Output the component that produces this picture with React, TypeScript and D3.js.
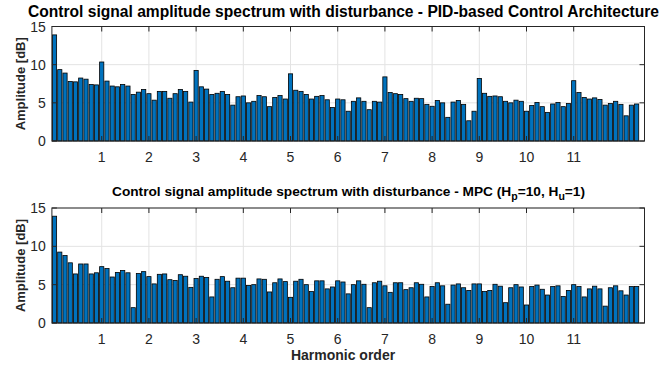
import React from "react";
import * as d3 from "d3";

// Harmonic order of each spectral bin (resolution 1/9 harmonic)
const binCount = 112;
const binStep = 1 / 9;

const pidAmplitude: number[] = [
  13.9, 9.35, 8.9, 7.8, 7.75, 8.25, 8.1, 7.4, 7.35, 10.35,
  7.85, 7.2, 7.1, 7.4, 7.2, 6.1, 6.4, 6.75, 6.2, 5.35,
  6.5, 6.5, 5.6, 6.2, 6.75, 6.5, 5.1, 9.25, 7.1, 6.8,
  6.1, 6.25, 6.5, 6.1, 4.7, 5.8, 5.9, 5.0, 5.2, 5.95,
  5.8, 4.5, 5.7, 5.95, 5.5, 8.8, 6.65, 6.5, 6.1, 5.5,
  5.85, 5.95, 5.4, 4.4, 5.5, 5.4, 3.9, 5.2, 5.65, 5.2,
  4.1, 5.2, 5.1, 8.4, 6.35, 6.2, 6.1, 5.55, 5.2, 5.6,
  5.55, 4.8, 4.55, 5.3, 5.0, 3.1, 5.1, 5.3, 4.8, 2.65,
  3.9, 8.2, 6.25, 5.85, 5.9, 5.8, 5.2, 5.0, 5.35, 5.2,
  3.9, 4.65, 5.05, 4.5, 3.75, 4.85, 5.05, 4.5, 4.9, 7.9,
  6.35, 5.7, 5.5, 5.65, 5.45, 4.7, 4.9, 5.2, 4.8, 3.3,
  4.7, 4.85,
];

const mpcAmplitude: number[] = [
  13.93, 9.25, 8.8, 7.85, 6.4, 7.7, 7.7, 6.4, 6.55, 7.35,
  7.1, 6.0, 6.6, 6.85, 6.55, 2.0, 6.45, 6.7, 6.05, 5.1,
  6.35, 6.4, 5.65, 5.55, 6.3, 6.1, 4.65, 5.8, 6.1, 5.95,
  3.4, 5.7, 6.05, 5.45, 4.6, 5.85, 5.85, 4.9, 5.0, 5.75,
  5.7, 4.05, 5.25, 5.75, 5.4, 3.35, 5.45, 5.7, 5.0, 4.1,
  5.5, 5.5, 4.45, 4.7, 5.5, 5.35, 3.8, 5.0, 5.5, 5.05,
  2.0, 5.25, 5.45, 4.85, 4.0, 5.25, 5.25, 4.35, 4.6, 5.25,
  5.05, 3.4, 4.75, 5.25, 4.85, 2.45, 4.95, 5.1, 4.6, 4.25,
  5.1, 5.1, 4.1, 4.25, 5.05, 4.8, 2.65, 4.6, 5.0, 4.7,
  2.35, 4.75, 4.95, 4.4, 3.65, 4.75, 4.85, 3.45, 4.25, 5.0,
  4.75, 3.4, 4.45, 4.8, 4.45, 2.2, 4.6, 4.85, 4.2, 3.65,
  4.75, 4.75,
];

const xTicks: number[] = [1, 2, 3, 4, 5, 6, 7, 8, 9, 10, 11];
const yTicks: number[] = [0, 5, 10, 15];

const FONT = "'Liberation Sans', Arial, Helvetica, sans-serif";
const AXIS_COLOR = "#262626";
const GRID_COLOR = "#e3e3e3";
const BAR_COLOR = "#0072BD";

const W = 669;
const H = 368;
const plotLeft = 51.9;
const plotRight = 644.5;

const xScale = d3
  .scaleLinear()
  .domain([-binStep / 2, 12.5])
  .range([plotLeft, plotRight]);

const harmonics = d3.range(binCount).map((k) => k * binStep);

type PanelProps = {
  values: number[];
  top: number;
  bottom: number;
  title: React.ReactNode;
  titleSize: number;
  titleX: number;
  titleY: number;
};

function Panel({ values, top, bottom, title, titleSize, titleX, titleY }: PanelProps) {
  const y = d3.scaleLinear().domain([0, 15]).range([bottom, top]);
  const step = xScale(binStep) - xScale(0);
  const bw = step * 0.8;
  const tickLen = 5;
  const fmt = d3.format("d");
  return (
    <g>
      {xTicks.map((t) => (
        <line key={"gx" + t} x1={xScale(t)} x2={xScale(t)} y1={top} y2={bottom} stroke={GRID_COLOR} strokeWidth={1} />
      ))}
      {yTicks.map((t) => (
        <line key={"gy" + t} x1={plotLeft} x2={plotRight} y1={y(t)} y2={y(t)} stroke={GRID_COLOR} strokeWidth={1} />
      ))}
      {values.map((v, i) => (
        <rect
          key={i}
          x={xScale(harmonics[i]) - bw / 2}
          y={y(v)}
          width={bw}
          height={y(0) - y(v)}
          fill={BAR_COLOR}
          stroke="#000"
          strokeWidth={0.8}
        />
      ))}
      <rect
        x={plotLeft}
        y={top}
        width={plotRight - plotLeft}
        height={bottom - top}
        fill="none"
        stroke={AXIS_COLOR}
        strokeWidth={1}
      />
      {xTicks.map((t) => (
        <g key={"tx" + t}>
          <line x1={xScale(t)} x2={xScale(t)} y1={bottom} y2={bottom - tickLen} stroke={AXIS_COLOR} />
          <line x1={xScale(t)} x2={xScale(t)} y1={top} y2={top + tickLen} stroke={AXIS_COLOR} />
          <text x={xScale(t)} y={bottom + 20.5} textAnchor="middle" fontFamily={FONT} fontSize={14} fill={AXIS_COLOR}>
            {fmt(t)}
          </text>
        </g>
      ))}
      {yTicks.map((t) => (
        <g key={"ty" + t}>
          <line x1={plotLeft} x2={plotLeft + tickLen} y1={y(t)} y2={y(t)} stroke={AXIS_COLOR} />
          <line x1={plotRight} x2={plotRight - tickLen} y1={y(t)} y2={y(t)} stroke={AXIS_COLOR} />
          <text x={plotLeft - 6} y={y(t) + 5} textAnchor="end" fontFamily={FONT} fontSize={14} fill={AXIS_COLOR}>
            {fmt(t)}
          </text>
        </g>
      ))}
      <text
        transform={`translate(24.5, ${(top + bottom) / 2}) rotate(-90)`}
        textAnchor="middle"
        fontFamily={FONT}
        fontSize={13}
        fontWeight="bold"
        fill={AXIS_COLOR}
      >
        Amplitude [dB]
      </text>
      <text x={titleX} y={titleY} textAnchor="middle" fontFamily={FONT} fontSize={titleSize} fontWeight="bold" fill="#000">
        {title}
      </text>
    </g>
  );
}

export default function App() {
  return (
    <svg width={W} height={H} style={{ display: "block", position: "absolute", left: 0, top: 0, background: "#fff" }}>
      <Panel
        values={pidAmplitude}
        top={26.5}
        bottom={141}
        titleSize={15.6}
        titleX={343.5}
        titleY={16.5}
        title="Control signal amplitude spectrum with disturbance - PID-based Control Architecture"
      />
      <Panel
        values={mpcAmplitude}
        top={208}
        bottom={323}
        titleSize={13.7}
        titleX={348.5}
        titleY={196}
        title={
          <>
            Control signal amplitude spectrum with disturbance - MPC (H
            <tspan fontSize={10.5} dy={3.5}>p</tspan>
            <tspan dy={-3.5}>=10, H</tspan>
            <tspan fontSize={10.5} dy={3.5}>u</tspan>
            <tspan dy={-3.5}>=1)</tspan>
          </>
        }
      />
      <text
        x={343}
        y={360}
        textAnchor="middle"
        fontFamily={FONT}
        fontSize={14}
        fontWeight="bold"
        fill={AXIS_COLOR}
      >
        Harmonic order
      </text>
    </svg>
  );
}
